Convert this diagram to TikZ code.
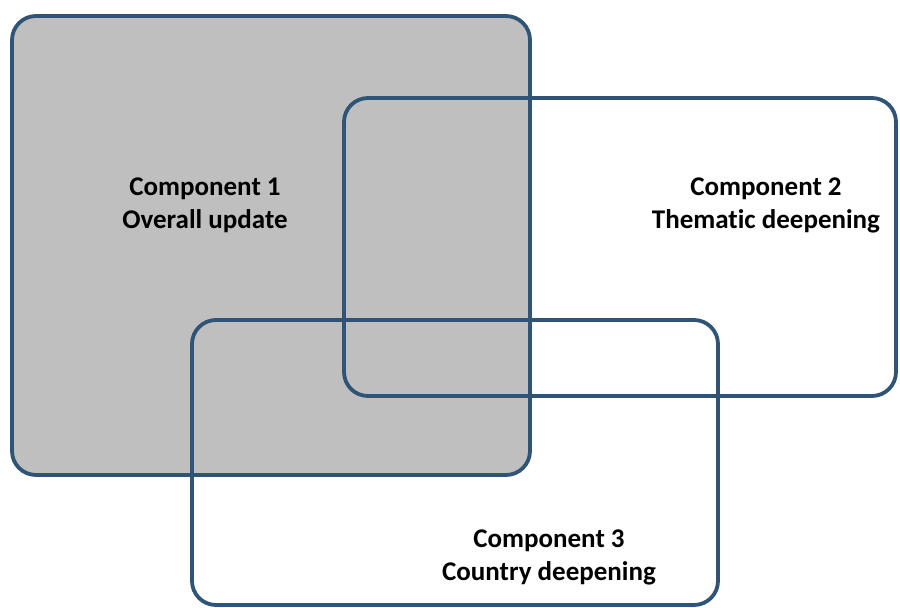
\documentclass[tikz,border=0pt]{standalone}
\usepackage{fontspec}
\setmainfont[Ligatures=CommonOff]{Carlito}
\usetikzlibrary{positioning}
\definecolor{boxblue}{RGB}{47,84,118}
\definecolor{boxgray}{RGB}{191,191,191}

\begin{document}
\begin{tikzpicture}[x=1pt,y=-1pt,
                    box/.style={draw=boxblue,line width=3.8pt,rounded corners=24pt,
                                inner sep=0pt},
                    caption/.style={font=\bfseries\fontsize{27}{33}\selectfont,
                                    align=center}]
  \useasboundingbox (0,0) rectangle (900,608);

  \node[box, fill=boxgray, minimum width=518pt, minimum height=459pt] (C1) at (271,245.5) {};
  \node[box, minimum width=552pt, minimum height=298pt] (C2) at (620,247) {};
  \node[box, minimum width=526pt, minimum height=285pt] (C3) at (455,462.5) {};

  \node[caption] (T1) at (205,205) {Component 1\\Overall update};
  \node[caption] (T2) at (766,205) {Component 2\\Thematic deepening};
  \node[caption] (T3) at (549,557) {Component 3\\Country deepening};
\end{tikzpicture}
\end{document}
